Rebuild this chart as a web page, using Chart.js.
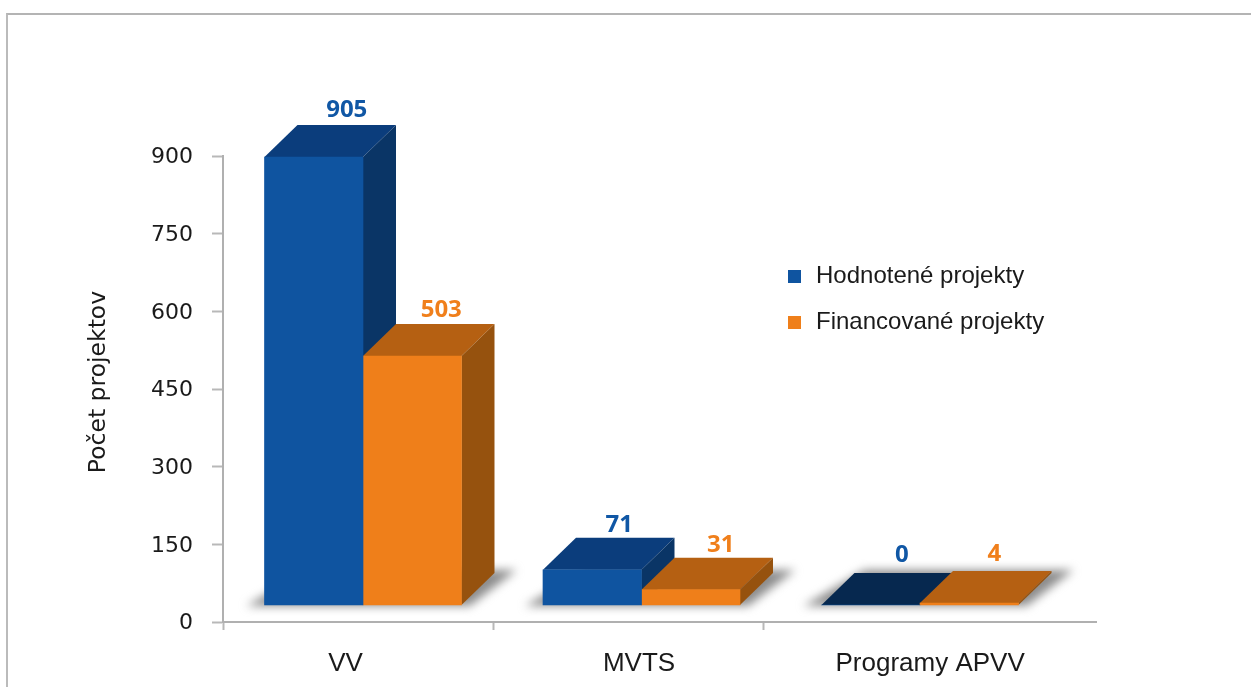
<!DOCTYPE html>
<html><head><meta charset="utf-8">
<style>
html,body{margin:0;padding:0;background:#fff}
#w{position:relative;width:1251px;height:687px;overflow:hidden}
canvas{position:absolute;left:0;top:0}
#f{position:absolute;left:6px;top:13px;width:1260px;height:700px;border-left:2px solid #bbb;border-top:2px solid #b4b4b4;box-sizing:border-box}
</style>
<script src="https://cdn.jsdelivr.net/npm/chart.js@4"></script>
</head><body><div id="w"><div id="f"></div><canvas id="c" width="1251" height="687"></canvas></div>
<script>
const categories = ['VV', 'MVTS', 'Programy APVV'];
const evaluated = [905, 71, 0];
const funded = [503, 31, 4];
const seriesNames = ['Hodnotené projekty', 'Financované projekty'];
const yTicks = [0, 150, 300, 450, 600, 750, 900];
const xBoundaryTicks = [0, 1, 2];
const xLabelTicks = [0.454, 1.541, 2.619];
const labelNudge = [[[4, 0], [-2, 2], [2, -3]], [[0, 1], [1, 2], [-4, -2]]];

const BLUE = {front:'#0f54a0', top:'#0b3d7c', side:'#0a3566', zeroTop:'#06284f', text:'#1057a5'};
const ORANGE = {front:'#ef7f1a', top:'#b56012', side:'#96520e', zeroTop:'#b56012', text:'#f07f1b'};
const PAL = [BLUE, ORANGE];
const DX = 33, DY = 32;

function legendSwatch(color){
  const c = document.createElement('canvas'); c.width = 16; c.height = 13;
  const g = c.getContext('2d'); g.fillStyle = color; g.fillRect(0, 0, 13, 13);
  return c;
}

function poly(ctx, pts, fill){
  ctx.beginPath(); pts.forEach((p,i)=> i?ctx.lineTo(p[0],p[1]):ctx.moveTo(p[0],p[1])); ctx.closePath();
  ctx.fillStyle = fill; ctx.fill();
}

const bar3d = {
  id:'bar3d',
  beforeDatasetsDraw(chart){
    const ctx = chart.ctx;
    const m0 = chart.getDatasetMeta(0).data, m1 = chart.getDatasetMeta(1).data;
    // ground shadow
    ctx.save();
    ctx.filter = 'blur(5px)';
    m0.forEach((b0,i)=>{
      const l = b0.x - b0.width/2, r = m1[i].x + m1[i].width/2, y = b0.base;
      poly(ctx, [[l-18,y+1],[r+8,y+1],[r+DX+22,y-DY-3],[l+DX+10,y-DY-3]], '#8c8c8c');
    });
    ctx.restore();
    // depth faces
    [m0,m1].forEach((m,ds)=>{
      const P = PAL[ds];
      m.forEach((b,i)=>{
        const l=b.x-b.width/2, r=b.x+b.width/2, t=b.y, v=(ds?funded:evaluated)[i];
        poly(ctx, [[l,t],[r,t],[r+DX,t-DY],[l+DX,t-DY]], v===0?P.zeroTop:P.top);
        poly(ctx, [[r,t],[r+DX,t-DY],[r+DX,b.base-DY],[r,b.base]], P.side);
      });
    });
  },
  afterDatasetsDraw(chart){
    const ctx = chart.ctx;
    ctx.save();
    ctx.font = '700 24px "Open Sans"';
    ctx.textAlign='center'; ctx.textBaseline='middle';
    [0,1].forEach(ds=>{
      chart.getDatasetMeta(ds).data.forEach((b,i)=>{
        const n = labelNudge[ds][i];
        ctx.fillStyle = PAL[ds].text;
        ctx.fillText(String(chart.data.datasets[ds].data[i].y), b.x+29+n[0], b.y-47+n[1]);
      });
    });
    ctx.restore();
  }
};

const placeBoxes = {
  id:'placeBoxes',
  afterLayout(chart){
    chart.legend.left = 766; chart.legend.top = 242;
    const s = chart.scales.y;
    if(!s._shifted){
      const origTitle = s.drawTitle.bind(s), origLabels = s.drawLabels.bind(s);
      s.drawTitle = function(){ const c = s.ctx; c.save(); c.translate(0,-7); origTitle(); c.restore(); };
      s.drawLabels = function(a){ const c = s.ctx; c.save(); c.translate(0,1.5); origLabels(a); c.restore(); };
      s._shifted = true;
    }
  }
};

const toPts = a => a.map((y,i)=>({x:i,y}));
new Chart(document.getElementById('c'),{
  type:'bar',
  plugins:[bar3d, placeBoxes],
  data:{datasets:[
    {label:seriesNames[0],data:toPts(evaluated),xAxisID:'xBars',yAxisID:'yBars',backgroundColor:BLUE.front,barThickness:98.5,swatch:legendSwatch(BLUE.front)},
    {label:seriesNames[1],data:toPts(funded),xAxisID:'xBars',yAxisID:'yBars',backgroundColor:ORANGE.front,barThickness:98.5,swatch:legendSwatch(ORANGE.front)}
  ]},
  options:{
    responsive:false,animation:false,
    layout:{padding:{left:85,top:156,right:155,bottom:0}},
    plugins:{
      tooltip:{enabled:false},
      legend:{
        display:true,position:'chartArea',align:'start',
        labels:{
          usePointStyle:true,pointStyleWidth:16,boxHeight:13,padding:22,
          color:'#1a1a1a',font:{family:'"Liberation Sans"',size:24},
          generateLabels(chart){
            return Chart.defaults.plugins.legend.labels.generateLabels(chart).map((it,i)=>{
              it.pointStyle = chart.data.datasets[i].swatch; return it;
            });
          }
        }
      }
    },
    scales:{
      xBars:{type:'linear',axis:'x',display:false,min:-0.5027,max:2.632,offset:false},
      yBars:{type:'linear',axis:'y',display:false,min:-34.3,max:907.0},
      x:{
        type:'linear',axis:'x',position:'bottom',min:0,max:873/270,offset:false,
        afterBuildTicks(s){ s.ticks = xBoundaryTicks.concat(xLabelTicks).map(v=>({value:v})); },
        afterFit(s){ s.height = 65; },
        border:{color:'#b0b0b0',width:2},
        grid:{offset:false,drawOnChartArea:false,tickLength:8,tickWidth:2,
          tickColor:c=> (c.tick && xBoundaryTicks.includes(c.tick.value))?'#b8b8b8':'rgba(0,0,0,0)'},
        ticks:{autoSkip:false,maxRotation:0,padding:18,color:'#1a1a1a',font:{family:'"Liberation Sans"',size:26},
          callback(v){ const i=xLabelTicks.indexOf(v); return i<0?'':categories[i]; }}
      },
      y:{
        type:'linear',axis:'y',position:'left',min:0,max:900,
        afterBuildTicks(s){ s.ticks = yTicks.map(v=>({value:v})); },
        afterFit(s){ s.width = 138; },
        border:{color:'#b0b0b0',width:2},
        grid:{drawOnChartArea:false,tickLength:11,tickWidth:2,tickColor:'#b8b8b8'},
        title:{display:true,text:'Počet projektov',color:'#1a1a1a',font:{family:'"DejaVu Sans"',size:23.5},padding:{top:0,bottom:0}},
        ticks:{padding:19,color:'#1a1a1a',font:{family:'"DejaVu Sans"',size:22}}
      }
    }
  }
});
</script></body></html>
